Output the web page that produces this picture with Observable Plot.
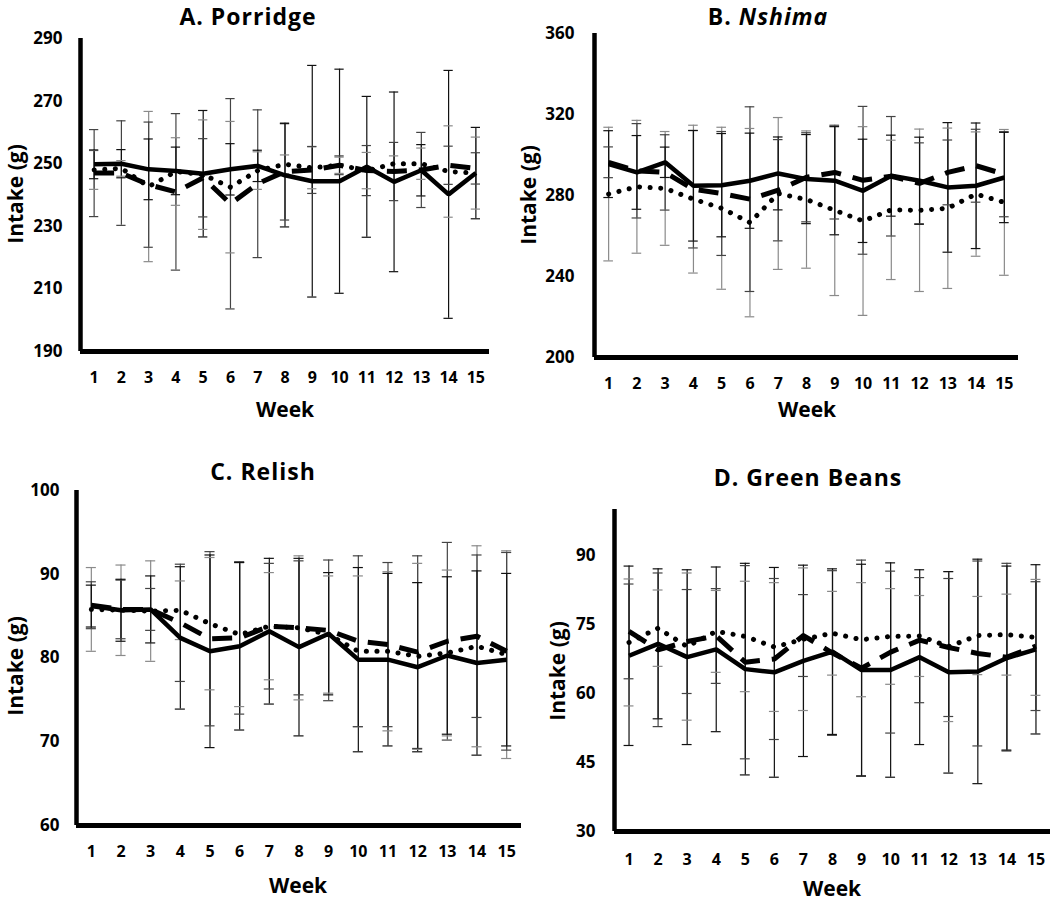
<!DOCTYPE html>
<html><head><meta charset="utf-8">
<script src="https://cdn.jsdelivr.net/npm/d3@7"></script>
<script src="https://cdn.jsdelivr.net/npm/@observablehq/plot@0.6"></script>
<style>
body{margin:0;background:#fff;}
#wrap{position:relative;width:1050px;height:901px;overflow:hidden;font-family:"Open Sans",sans-serif;background:#fff;}
.p{position:absolute;}
.t{position:absolute;transform:translate(-50%,-50%);font-weight:700;white-space:nowrap;color:#000;line-height:1;font-family:"Open Sans",sans-serif;}
.title{font-size:23px;letter-spacing:1px;}
.xl{font-size:21px;}
.yl{font-size:21px;transform:translate(-50%,-50%) rotate(-90deg);}
</style></head><body><div id="wrap"></div>
<script>
// ---- data ----
const weeks = [1,2,3,4,5,6,7,8,9,10,11,12,13,14,15];

// A. Porridge
const porridgeTicks = [190,210,230,250,270,290];
const porridgeSolid    = [249.8,250.0,248.2,247.7,246.8,248.2,249.3,246.3,244.4,244.4,249.0,244.2,247.9,240.2,247.0];
const porridgeSolidSD  = [4.6,4.5,9.7,7.6,20.2,8.2,5.0,16.5,37.0,35.8,22.5,28.7,8.2,39.6,14.6];
const porridgeDashed   = [247.0,247.0,243.3,241.0,245.5,237.2,243.6,247.5,248.0,249.5,247.8,247.5,248.0,249.5,248.5];
const porridgeDashedSD = [13.9,16.7,20.0,25.0,12.5,33.6,23.6,15.5,7.5,3.0,8.0,9.3,12.0,6.1,5.0];
const porridgeDotted   = [248.0,248.5,242.7,247.5,246.5,242.5,247.8,249.8,248.7,249.5,247.8,250.0,250.0,247.5,247.0];
const porridgeDottedSD = [6.2,2.5,24.0,10.8,17.5,21.0,6.0,3.0,6.7,2.6,5.8,2.5,5.0,14.6,11.5];

// B. Nshima
const nshimaTicks = [200,240,280,320,360];
const nshimaSolid    = [295.5,291.4,296.4,284.8,285.1,287.3,290.9,288.1,287.3,282.3,289.8,287.3,284.0,284.8,288.9];
const nshimaSolidSD  = [16.5,18.2,7.5,27.3,25.5,23.5,18.0,22.0,26.7,25.5,20.0,21.5,32.0,31.0,22.3];
const nshimaDashed   = [296.4,292.2,291.4,283.1,281.0,278.2,282.6,289.0,291.4,287.5,289.5,286.0,291.4,294.7,290.5];
const nshimaDashedSD = [7.6,23.3,18.6,29.0,30.6,45.6,25.0,22.0,23.0,36.5,29.5,20.0,16.0,18.0,21.0];
const nshimaDotted   = [280.7,284.3,283.5,278.2,273.7,266.6,281.0,278.0,272.7,267.4,272.9,272.7,273.7,280.7,276.6];
const nshimaDottedSD = [33.0,32.8,28.1,36.5,40.0,46.5,37.5,33.9,42.1,46.6,34.4,40.1,39.6,30.7,36.0];

// C. Relish
const relishTicks = [60,70,80,90,100];
const relishSolid    = [86.2,85.7,85.8,82.4,80.8,81.4,83.2,81.3,82.9,79.8,79.8,78.9,80.3,79.4,79.8];
const relishSolidSD  = [2.5,3.7,4.0,8.5,11.5,10.0,8.7,10.6,7.3,11.0,10.3,10.1,9.4,11.0,10.3];
const relishDashed   = [86.3,85.8,85.8,84.2,82.3,82.4,83.8,83.6,83.3,82.0,81.6,80.7,82.0,82.6,80.8];
const relishDashedSD = [2.8,3.5,2.5,7.0,10.4,9.1,7.5,8.0,8.4,10.2,9.8,11.5,11.8,9.7,11.8];
const relishDotted   = [85.8,85.7,85.6,85.7,84.1,82.8,83.8,83.6,82.8,80.8,80.8,80.2,80.6,81.4,80.4];
const relishDottedSD = [5.0,5.4,6.0,3.5,7.9,8.6,6.4,8.6,7.0,9.0,9.5,11.1,9.9,12.0,12.4];

// D. Green Beans
const beansTicks = [30,45,60,75,90];
const beansSolid    = [68.2,70.8,67.9,69.6,65.3,64.6,67.1,69.1,65.1,65.1,67.9,64.6,64.8,67.7,69.6];
const beansSolidSD  = [19.5,16.3,19.0,17.9,23.0,22.8,20.8,18.0,23.0,23.3,19.0,21.9,24.4,20.0,18.4];
const beansDashed   = [73.5,69.5,71.3,72.5,66.8,67.5,72.6,68.8,65.5,69.0,71.6,70.0,68.7,67.9,70.3];
const beansDashedSD = [10.3,16.7,11.3,10.3,21.0,17.5,8.9,17.9,23.5,17.6,13.6,15.0,20.1,20.4,14.0];
const beansDotted   = [71.1,74.2,70.2,73.5,72.4,70.1,71.8,73.1,71.7,72.4,72.5,70.2,72.6,72.8,72.2];
const beansDottedSD = [13.8,8.3,16.0,8.9,12.0,14.0,15.5,9.1,12.4,10.4,8.8,16.3,8.5,8.8,12.6];

// ---- drawing ----
const FONT = '"Open Sans", sans-serif';
const wrap = document.getElementById("wrap");

function rowsOf(mean, sd, key) {
  return weeks.map((w, i) => ({week: w, mean: mean[i], sd: sd[i], key}));
}

function panel(cfg) {
  const S = rowsOf(cfg.solid, cfg.solidSD, "solid");
  const D = rowsOf(cfg.dashed, cfg.dashedSD, "dashed");
  const O = rowsOf(cfg.dotted, cfg.dottedSD, "dotted");
  const barColor = {solid: "#111", dashed: "#444", dotted: "#8a8a8a"};
  const all = [...O, ...D, ...S];
  const cap = 0.17;
  const m = cfg.margin;
  const chart = Plot.plot({
    width: cfg.width, height: cfg.height,
    marginLeft: m[0], marginRight: m[1], marginTop: m[2], marginBottom: m[3],
    style: {fontFamily: FONT, fontWeight: "bold", fontSize: "16px", color: "#000", background: "transparent", overflow: "visible"},
    x: {domain: [0.5, 15.5]},
    y: {domain: cfg.yDomain},
    marks: [
      Plot.ruleX(all, {x: "week", y1: d => d.mean - d.sd, y2: d => d.mean + d.sd, stroke: d => barColor[d.key], strokeWidth: 1.2}),
      Plot.ruleY(all, {x1: d => d.week - cap, x2: d => d.week + cap, y: d => d.mean + d.sd, stroke: d => barColor[d.key], strokeWidth: 1.2}),
      Plot.ruleY(all, {x1: d => d.week - cap, x2: d => d.week + cap, y: d => d.mean - d.sd, stroke: d => barColor[d.key], strokeWidth: 1.2}),
      Plot.line(O, {x: "week", y: "mean", stroke: "#000", strokeWidth: 5, strokeDasharray: "0.1,10.5", strokeLinecap: "round", strokeLinejoin: "round"}),
      Plot.line(D, {x: "week", y: "mean", stroke: "#000", strokeWidth: 5, strokeDasharray: "20,12", strokeLinecap: "butt", strokeLinejoin: "round"}),
      Plot.line(S, {x: "week", y: "mean", stroke: "#000", strokeWidth: 4.5, strokeLinecap: "butt", strokeLinejoin: "miter"}),
      Plot.axisX({ticks: weeks, tickSize: 0, tickPadding: cfg.xPad, label: null, fontSize: 16, fontWeight: "bold", tickFormat: d => String(d)}),
      Plot.axisY({ticks: cfg.yTicks, tickSize: 0, tickPadding: cfg.yPad, label: null, fontSize: 17, fontWeight: "bold", tickFormat: d => String(d)}),
      Plot.ruleY([cfg.yDomain[0]], {stroke: "#000", strokeWidth: 5}),
      Plot.ruleX([0.5], {stroke: "#000", strokeWidth: 4.5})
    ]
  });
  const holder = document.createElement("div");
  holder.className = "p";
  holder.style.left = cfg.left + "px";
  holder.style.top = cfg.top + "px";
  holder.appendChild(chart);
  wrap.appendChild(holder);

  const addText = (cls, html, x, y) => {
    const el = document.createElement("div");
    el.className = "t " + cls;
    el.innerHTML = html;
    el.style.left = x + "px";
    el.style.top = y + "px";
    wrap.appendChild(el);
  };
  addText("title", cfg.title, cfg.titleXY[0], cfg.titleXY[1]);
  addText("xl", "Week", cfg.weekXY[0], cfg.weekXY[1]);
  addText("yl", "Intake (g)", cfg.ylabXY[0], cfg.ylabXY[1]);
}

panel({
  title: "A. Porridge", left: 0, top: 0, width: 525, height: 440,
  margin: [80, 36, 38, 89], yDomain: [190, 290], yTicks: porridgeTicks,
  solid: porridgeSolid, solidSD: porridgeSolidSD, dashed: porridgeDashed, dashedSD: porridgeDashedSD,
  dotted: porridgeDotted, dottedSD: porridgeDottedSD,
  xPad: 20, yPad: 18, titleXY: [248, 16], weekXY: [285, 408.5], ylabXY: [15, 194]
});
panel({
  title: "B. <i>Nshima</i>", left: 500, top: 0, width: 550, height: 440,
  margin: [94, 32, 33, 83], yDomain: [200, 360], yTicks: nshimaTicks,
  solid: nshimaSolid, solidSD: nshimaSolidSD, dashed: nshimaDashed, dashedSD: nshimaDashedSD,
  dotted: nshimaDotted, dottedSD: nshimaDottedSD,
  xPad: 20, yPad: 20, titleXY: [768, 16], weekXY: [807, 408.5], ylabXY: [528, 195]
});
panel({
  title: "C. Relish", left: 0, top: 440, width: 525, height: 461,
  margin: [76, 4, 50, 76], yDomain: [60, 100], yTicks: relishTicks,
  solid: relishSolid, solidSD: relishSolidSD, dashed: relishDashed, dashedSD: relishDashedSD,
  dotted: relishDotted, dottedSD: relishDottedSD,
  xPad: 20, yPad: 17, titleXY: [263, 470.8], weekXY: [298, 885], ylabXY: [15, 666]
});
panel({
  title: "D. Green Beans", left: 500, top: 440, width: 550, height: 461,
  margin: [114, 0, 69, 70], yDomain: [30, 100], yTicks: beansTicks,
  solid: beansSolid, solidSD: beansSolidSD, dashed: beansDashed, dashedSD: beansDashedSD,
  dotted: beansDotted, dottedSD: beansDottedSD,
  xPad: 22, yPad: 19, titleXY: [808, 476.5], weekXY: [832, 888], ylabXY: [557, 671]
});
</script>
</body></html>
